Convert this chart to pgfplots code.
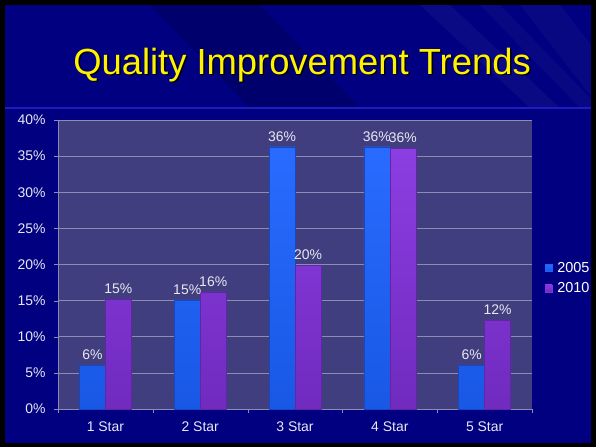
\documentclass[border=0pt]{standalone}
\usepackage{pgfplots}
\pgfplotsset{compat=1.18}
\usepackage{fontspec}
\setmainfont{Liberation Sans}
\definecolor{navy}{RGB}{0,0,128}
\definecolor{plotbg}{RGB}{64,62,126}
\definecolor{barblue}{RGB}{28,98,255}
\definecolor{barpurple}{RGB}{132,50,224}
\definecolor{gridc}{RGB}{140,140,178}
\definecolor{lbl}{RGB}{232,232,242}
\begin{document}
\begin{tikzpicture}[x=1bp,y=1bp]
\path[use as bounding box] (0,0) rectangle (596,447);
\fill[black] (0,0) rectangle (596,447);
\fill[navy] (5,4) rectangle (591,442);
\begin{scope}
\clip (5,339) rectangle (591,442);
\fill[black,opacity=0.15] (150,442) -- (260,442) -- (360,339) -- (250,339) -- cycle;
\fill[white,opacity=0.04] (420,442) -- (450,442) -- (560,339) -- (530,339) -- cycle;
\fill[white,opacity=0.03] (480,442) -- (500,442) -- (600,339) -- (580,339) -- cycle;
\fill[white,opacity=0.03] (520,442) -- (560,442) -- (640,339) -- (600,339) -- cycle;
\end{scope}
\draw[color={rgb,255:red,30;green,30;blue,190}, line width=1.2bp] (5,339) -- (591,339);
\node[text=black, font=\fontsize{36.5}{40}\selectfont] at (303.5,380.5) {Quality Improvement Trends};
\node[text=yellow, font=\fontsize{36.5}{40}\selectfont] at (302,382) {Quality Improvement Trends};
\begin{axis}[
  at={(58bp,38bp)}, anchor=south west,
  scale only axis, width=474bp, height=289bp,
  ybar=0pt, bar width=26bp,
  ymin=0, ymax=40, xmin=-0.5, xmax=4.5,
  xtick={0,1,2,3,4},
  xticklabels={1 Star,2 Star,3 Star,4 Star,5 Star},
  minor xtick={-0.5,0.5,1.5,2.5,3.5,4.5},
  ytick={0,5,...,40},
  yticklabel={\pgfmathprintnumber{\tick}\%},
  /pgf/number format/assume math mode=true,
  axis background/.style={fill=plotbg},
  ymajorgrids, grid style={gridc, line width=0.6bp},
  axis x line*=bottom, axis y line*=left,
  axis line style={gridc, line width=0.8bp},
  tick align=outside,
  major tick length=4bp, minor tick length=4bp,
  xtick style={draw=none},
  minor x tick style={draw=gridc},
  ytick style={draw=gridc},
  ticklabel style={font=\fontsize{14}{16}\selectfont, text=lbl},
  x tick label style={yshift=-5bp},
  y tick label style={xshift=-5bp},
  nodes near coords={\pgfmathprintnumber[fixed,precision=0]{\pgfplotspointmeta}\%},
  nodes near coords style={font=\fontsize{14}{16}\selectfont, text=lbl, yshift=2bp},
  legend style={at={(1.027,0.453)}, anchor=west, draw=none, fill=none,
    font=\fontsize{14.5}{16}\selectfont, text=white, row sep=5bp,
    inner xsep=0pt, legend cell align=left},
  clip=false,
]
\addplot[draw=barblue!75!black, top color=barblue!94!white, bottom color=barblue!90!black,
  legend image code/.code={\fill[barblue] (0bp,-3.5bp) rectangle (7bp,3.5bp); \path (10bp,0bp);}]
  coordinates {(0,6.0) (1,15.1) (2,36.3) (3,36.3) (4,6.0)};
\addplot[draw=barpurple!75!black, top color=barpurple!94!white, bottom color=barpurple!85!black,
  legend image code/.code={\fill[barpurple] (0bp,-3.5bp) rectangle (7bp,3.5bp); \path (10bp,0bp);}]
  coordinates {(0,15.2) (1,16.2) (2,19.9) (3,36.1) (4,12.3)};
\legend{2005,2010}
\end{axis}
\end{tikzpicture}
\end{document}
